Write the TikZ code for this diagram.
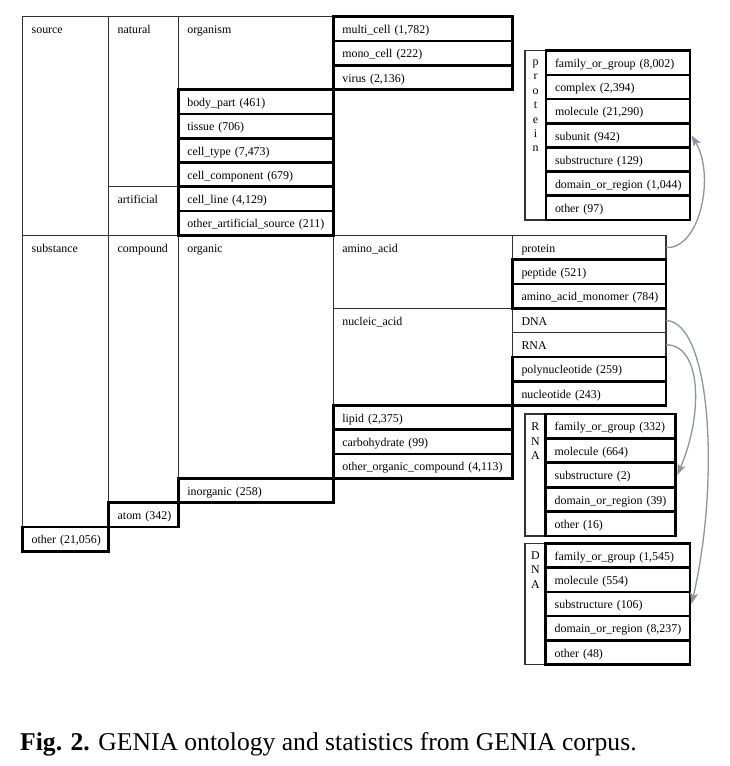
\documentclass[tikz,border=0pt]{standalone}
\usepackage{fontspec}
\setmainfont{Liberation Serif}
\usetikzlibrary{arrows.meta}
\definecolor{thincol}{RGB}{50,50,50}
\definecolor{arrowcol}{RGB}{140,148,156}
\tikzset{
  cellbase/.style={draw, rectangle, inner xsep=0pt, inner ysep=0pt, outer sep=0pt,
    text height=16.8pt, align=left, font=\fontsize{11.9}{14}\selectfont},
  thinbox/.style={cellbase, line width=1.2pt, draw=thincol},
  thickbox/.style={cellbase, line width=2.7pt, draw=black},
  vlabel/.style={draw=thincol, line width=1.2pt, rectangle, inner xsep=0pt, inner ysep=0pt,
    outer sep=0pt, align=center, font=\fontsize{11.9}{14.4}\selectfont},
  link/.style={draw=arrowcol, line width=1.3pt, -{Stealth[length=11pt,width=8pt,inset=2.5pt]}}
}
\newcommand\cell[7][thinbox]{%
  \pgfmathsetmacro\cellw{#5-#3}%
  \pgfmathsetmacro\celld{#6-#4-16.8}%
  \node[#1, anchor=north west, text width=\cellw pt, text depth=\celld pt] (#2) at (#3,#4) {\hspace*{9pt}#7};}
\newcommand\vlab[7]{%
  \pgfmathsetmacro\cellw{#5-#3}%
  \pgfmathsetmacro\celld{#6-#4-#7}%
  \node[vlabel, anchor=north west, text width=\cellw pt, text height=#7pt, text depth=\celld pt] (#1) at (#3,#4) {#2};}
\begin{document}
\begin{tikzpicture}[x=1pt,y=-1pt]
\useasboundingbox (0,0) rectangle (730,766);
% ---- thin (non-leaf) cells ----
\cell{source}{22.7}{16.7}{108.7}{235.4}{source}
\cell{natural}{108.7}{16.7}{178.3}{186.8}{natural}
\cell{artificial}{108.7}{186.8}{178.3}{235.4}{artificial}
\cell{organism}{178.3}{16.7}{333.3}{89.6}{organism}
\cell{substance}{22.7}{235.4}{108.7}{527}{substance}
\cell{compound}{108.7}{235.4}{178.3}{502.7}{compound}
\cell{organic}{178.3}{235.4}{333.3}{478.4}{organic}
\cell{aminoacid}{333.3}{235.4}{512.5}{308.3}{amino\_acid}
\cell{nucleicacid}{333.3}{308.3}{512.5}{405.5}{nucleic\_acid}
\cell{protein}{512.5}{235.4}{666}{259.7}{protein}
\cell{dna}{512.5}{308.3}{666}{332.6}{DNA}
\cell{rna}{512.5}{332.6}{666}{356.9}{RNA}
\vlab{plab}{p\\r\\o\\t\\e\\i\\n}{525}{50.7}{546}{220}{14.8}
\vlab{rlab}{R\\N\\A}{525}{414}{545.7}{536}{16.6}
\vlab{dlab}{D\\N\\A}{525}{543.3}{545.7}{664.7}{16.2}
% ---- thick (leaf) cells ----
\cell[thickbox]{multicell}{333.3}{16.7}{512.7}{41}{multi\_cell (1,782)}
\cell[thickbox]{monocell}{333.3}{41}{512.7}{65.3}{mono\_cell (222)}
\cell[thickbox]{virus}{333.3}{65.3}{512.7}{89.6}{virus (2,136)}
\cell[thickbox]{bodypart}{178.3}{89.6}{333.3}{113.9}{body\_part (461)}
\cell[thickbox]{tissue}{178.3}{113.9}{333.3}{138.2}{tissue (706)}
\cell[thickbox]{celltype}{178.3}{138.2}{333.3}{162.5}{cell\_type (7,473)}
\cell[thickbox]{cellcomp}{178.3}{162.5}{333.3}{186.8}{cell\_component (679)}
\cell[thickbox]{cellline}{178.3}{186.8}{333.3}{211.1}{cell\_line (4,129)}
\cell[thickbox]{otherart}{178.3}{211.1}{333.3}{235.4}{other\_artificial\_source (211)}
\cell[thickbox]{peptide}{512.5}{259.7}{666}{284}{peptide (521)}
\cell[thickbox]{aamono}{512.5}{284}{666}{308.3}{amino\_acid\_monomer (784)}
\cell[thickbox]{polynuc}{512.5}{356.9}{666}{381.2}{polynucleotide (259)}
\cell[thickbox]{nucleotide}{512.5}{381.2}{666}{405.5}{nucleotide (243)}
\cell[thickbox]{lipid}{333.3}{405.5}{512.5}{429.8}{lipid (2,375)}
\cell[thickbox]{carbo}{333.3}{429.8}{512.5}{454.1}{carbohydrate (99)}
\cell[thickbox]{otherorg}{333.3}{454.1}{512.5}{478.4}{other\_organic\_compound (4,113)}
\cell[thickbox]{inorganic}{178.3}{478.4}{333.3}{502.7}{inorganic (258)}
\cell[thickbox]{atom}{108.7}{502.7}{178.3}{527}{atom (342)}
\cell[thickbox]{other}{22.7}{527}{108.7}{551.3}{other (21,056)}
% protein sub-box
\cell[thickbox]{pfam}{546}{50.7}{690}{74.9}{family\_or\_group (8,002)}
\cell[thickbox]{pcomplex}{546}{74.9}{690}{99.1}{complex (2,394)}
\cell[thickbox]{pmol}{546}{99.1}{690}{123.3}{molecule (21,290)}
\cell[thickbox]{psub}{546}{123.3}{690}{147.5}{subunit (942)}
\cell[thickbox]{pstruct}{546}{147.5}{690}{171.7}{substructure (129)}
\cell[thickbox]{pdom}{546}{171.7}{690}{195.8}{domain\_or\_region (1,044)}
\cell[thickbox]{pother}{546}{195.8}{690}{220}{other (97)}
% RNA sub-box
\cell[thickbox]{rfam}{545.7}{414}{675.7}{438.4}{family\_or\_group (332)}
\cell[thickbox]{rmol}{545.7}{438.4}{675.7}{462.8}{molecule (664)}
\cell[thickbox]{rsub}{545.7}{462.8}{675.7}{487.2}{substructure (2)}
\cell[thickbox]{rdom}{545.7}{487.2}{675.7}{511.6}{domain\_or\_region (39)}
\cell[thickbox]{rother}{545.7}{511.6}{675.7}{536}{other (16)}
% DNA sub-box
\cell[thickbox]{dfam}{545.7}{543.3}{690}{567.6}{family\_or\_group (1,545)}
\cell[thickbox]{dmol}{545.7}{567.6}{690}{591.9}{molecule (554)}
\cell[thickbox]{dsub}{545.7}{591.9}{690}{616.1}{substructure (106)}
\cell[thickbox]{ddom}{545.7}{616.1}{690}{640.4}{domain\_or\_region (8,237)}
\cell[thickbox]{dother}{545.7}{640.4}{690}{664.7}{other (48)}
% ---- links ----
\draw[link] (protein.east) .. controls +(34,2) and +(24,40) .. ([xshift=1.5pt]psub.east);
\draw[link] (rna.east) .. controls +(36,0) and +(26,-60) .. ([xshift=1.5pt]rsub.east);
\draw[link] (dna.east) .. controls +(46,2) and +(28,-120) .. ([xshift=1.5pt]dsub.east);
% ---- caption ----
\node[anchor=base west, inner sep=0pt, font=\fontsize{25.6}{30}\selectfont] (caption) at (20,750)
  {\textbf{Fig. 2.} GENIA ontology and statistics from GENIA corpus.};
\end{tikzpicture}
\end{document}
